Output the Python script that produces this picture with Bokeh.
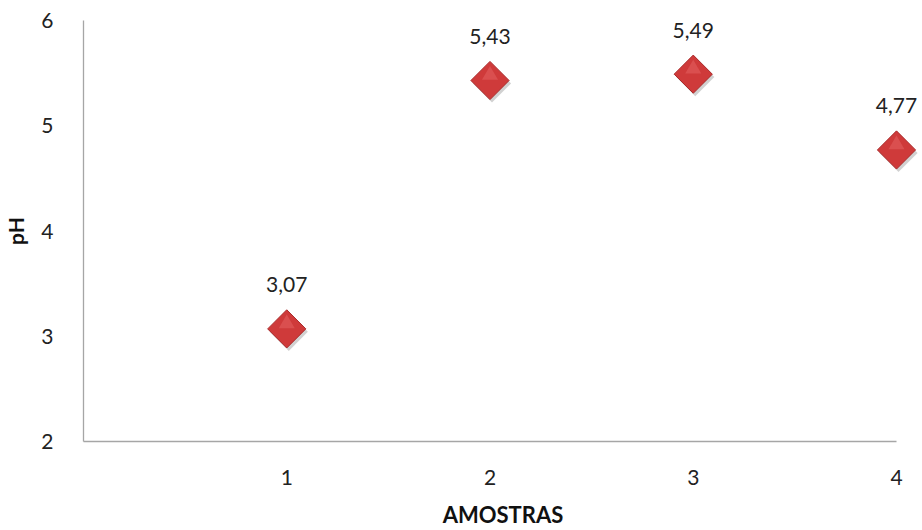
from bokeh.plotting import figure
from bokeh.models import ColumnDataSource, FixedTicker, Range1d
from bokeh.embed import file_html
from bokeh.resources import INLINE
from bokeh.core.properties import value
from bokeh.transform import dodge
import numpy as np

amostras = [1, 2, 3, 4]
ph = [3.07, 5.43, 5.49, 4.77]
rotulos = ["3,07", "5,43", "5,49", "4,77"]
x_ticks = [1, 2, 3, 4]
y_ticks = [2, 3, 4, 5, 6]

src = ColumnDataSource(dict(x=amostras, y=ph, lab=rotulos))

p = figure(width=922, height=530, output_backend="svg", toolbar_location=None,
           x_range=Range1d(0, 4.128), y_range=Range1d(2, 6),
           min_border_left=83, min_border_right=0, min_border_top=20, min_border_bottom=88)
p.outline_line_color = None
p.xgrid.grid_line_color = None
p.ygrid.grid_line_color = None
p.background_fill_color = "white"
p.border_fill_color = "white"

FONT = "Lato"
for ax, ticks in ((p.xaxis, x_ticks), (p.yaxis, y_ticks)):
    ax.ticker = FixedTicker(ticks=ticks)
    ax.axis_line_color = "#a6a6a6"
    ax.axis_line_width = 1.3
    ax.major_tick_line_color = None
    ax.minor_tick_line_color = None
    ax.major_label_text_font = FONT
    ax.major_label_text_font_size = "21px"
    ax.major_label_text_color = "#222222"
    ax.axis_label_text_font = FONT
    ax.axis_label_text_font_style = "bold"
    ax.axis_label_text_color = "#111111"

p.xaxis.axis_label_text_font_size = "22px"
p.yaxis.axis_label_text_font_size = "21px"
p.xaxis.bounds = (0, 4)
p.xaxis.axis_label = "AMOSTRAS"
p.yaxis.axis_label = "pH"
p.xaxis.major_label_standoff = 22
p.yaxis.major_label_standoff = 24
p.xaxis.axis_label_standoff = 13
p.yaxis.axis_label_standoff = 10

# shadow
p.scatter(x=dodge("x", 0.01, range=p.x_range), y=dodge("y", -0.028, range=p.y_range),
          source=src, marker="square", size=27, angle=np.pi / 4,
          fill_color="#000000", fill_alpha=0.18, line_color=None)
p.scatter(x="x", y="y", source=src, marker="square", size=27, angle=np.pi / 4,
          fill_color="#cf3a3a", line_color="#a92a2a", line_width=1)
p.scatter(x="x", y=dodge("y", 0.05, range=p.y_range), source=src, marker="triangle",
          size=16, fill_color="#e46060", fill_alpha=0.55, line_color=None)

p.text(x="x", y="y", text="lab", source=src, text_align="center",
       text_baseline="middle", y_offset=-44, text_font=value(FONT),
       text_font_size="21px", text_color="#222222")

open("out.html", "w").write(file_html(p, INLINE))
